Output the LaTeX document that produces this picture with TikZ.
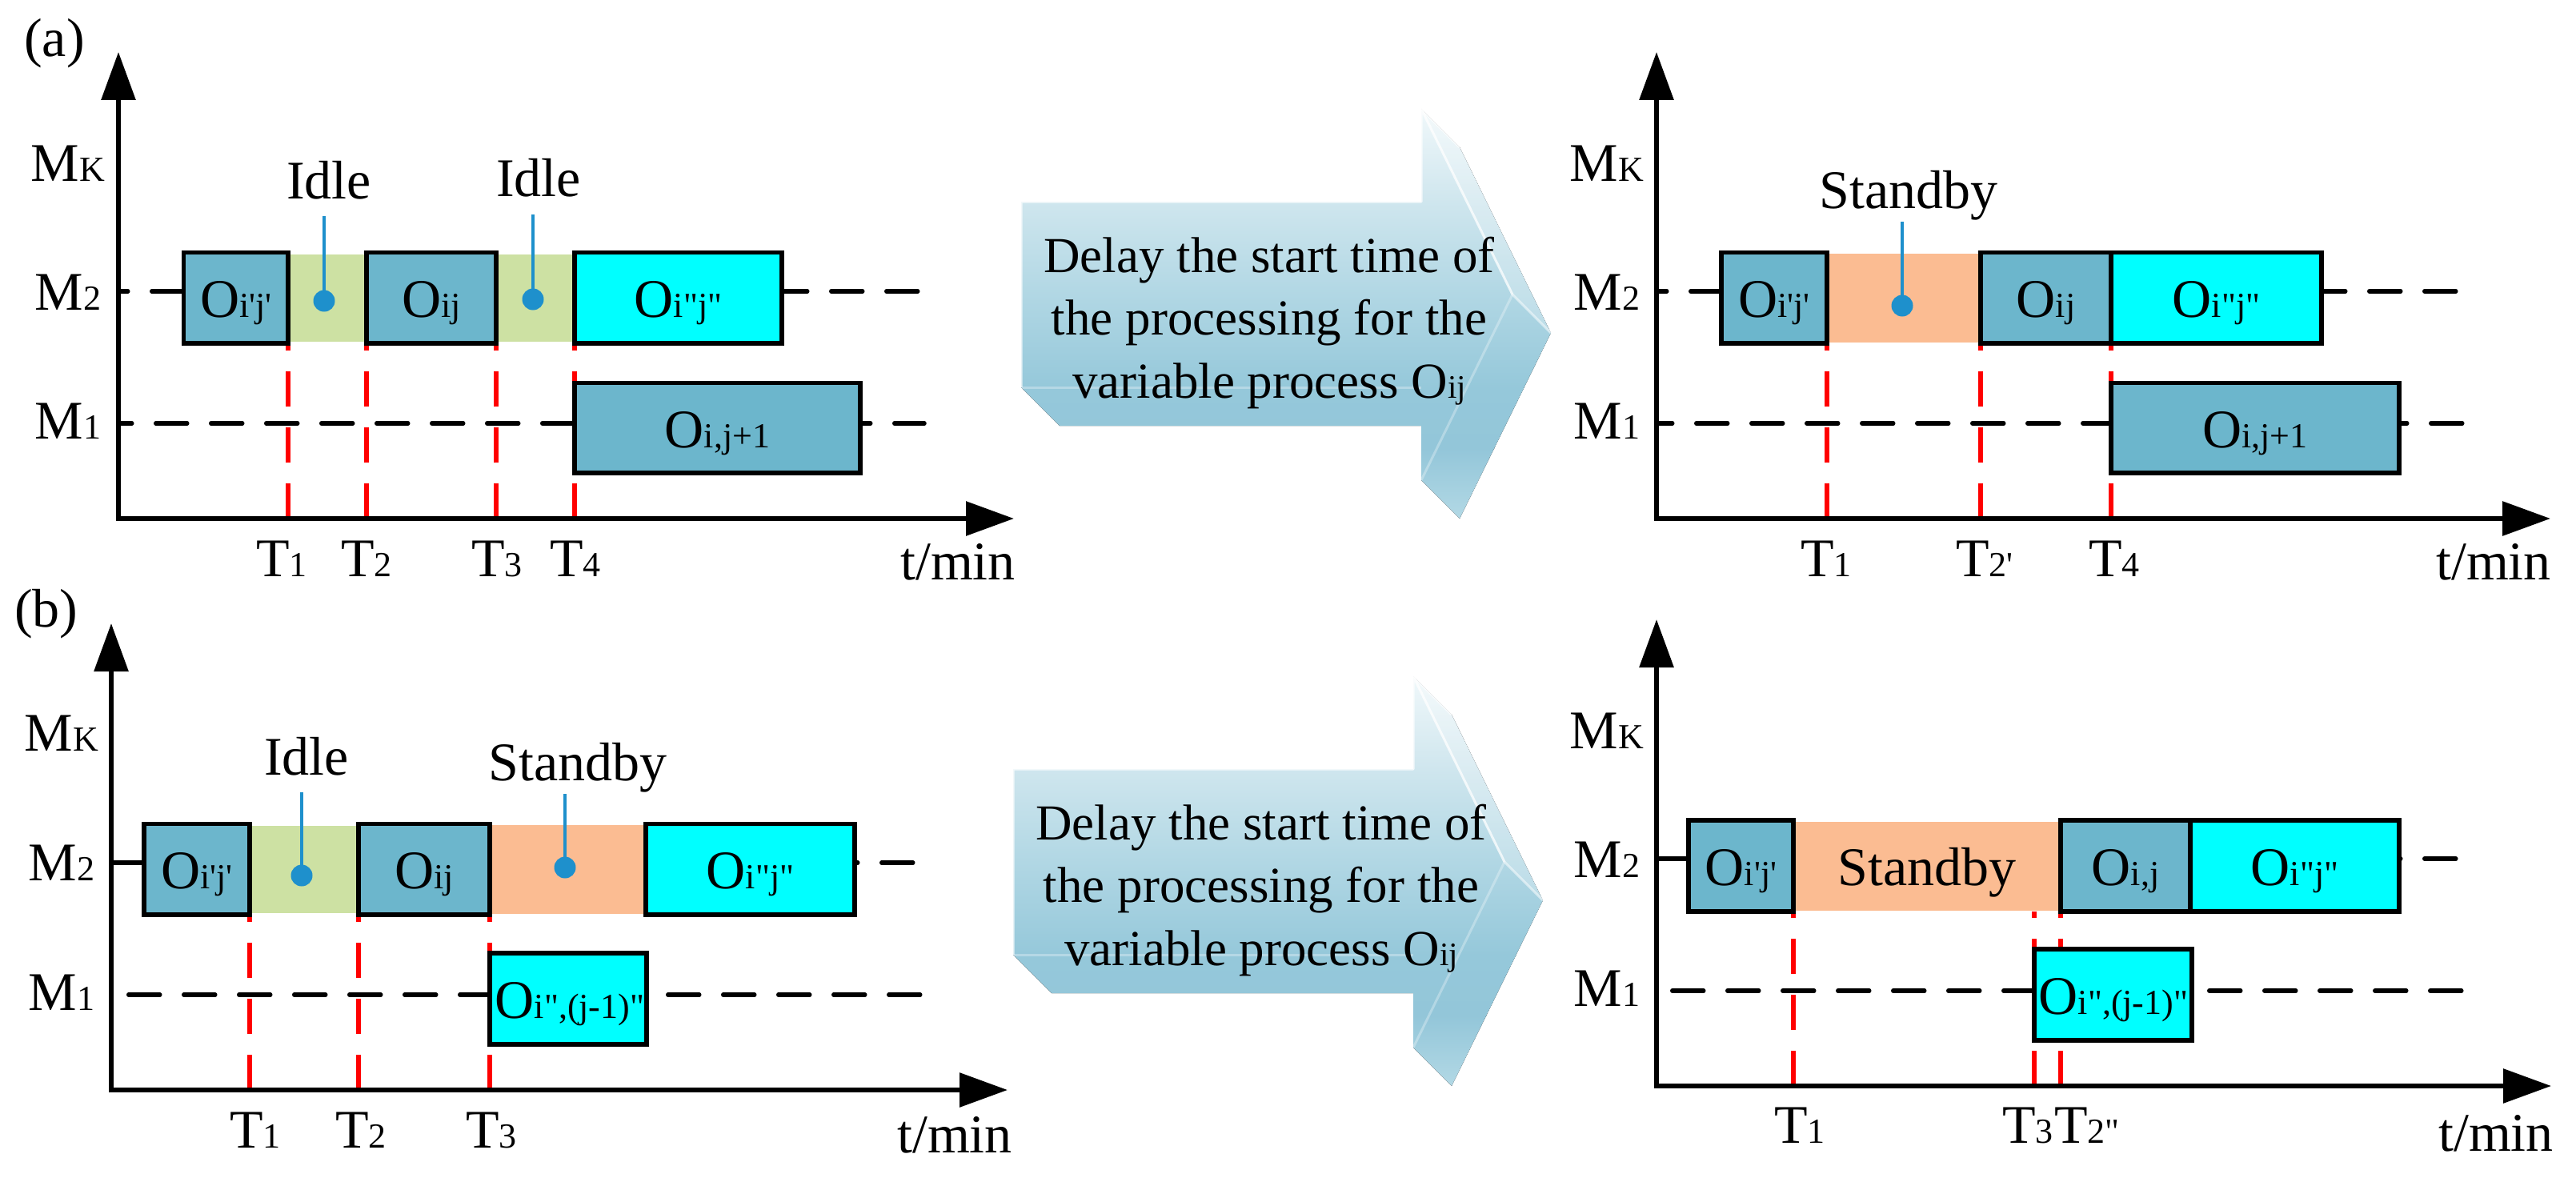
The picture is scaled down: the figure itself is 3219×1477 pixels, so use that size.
\documentclass[tikz,border=0pt]{standalone}
\usepackage{fontspec}
\setmainfont{Liberation Serif}
\usetikzlibrary{arrows.meta}
\definecolor{boxblue}{HTML}{6CB6CC}
\definecolor{brcyan}{RGB}{0,255,255}
\definecolor{idlegreen}{HTML}{CDE1A3}
\definecolor{sborange}{HTML}{FBBC92}
\definecolor{pinblue}{HTML}{1E90CC}
\definecolor{arrW}{HTML}{F2F9FB}
\definecolor{arrT}{HTML}{CFE6EE}
\definecolor{arrM}{HTML}{B1D7E4}
\definecolor{arrD}{HTML}{95C8DA}
\definecolor{arrE}{HTML}{93C6D9}
\definecolor{arrB}{HTML}{B5DAE6}
\newcommand\bigtxt{\fontsize{68pt}{80pt}\selectfont}
\newcommand\subtxt{\fontsize{44pt}{50pt}\selectfont}
\newcommand\arrtxt{\fontsize{63pt}{79pt}\selectfont}
\newcommand\arrsubtxt{\fontsize{41pt}{48pt}\selectfont}
\newcommand\sbx[1]{{\subtxt #1}}
\newcommand\asbx[1]{{\arrsubtxt #1}}
\newcommand\myq{\textquotesingle}
\newcommand\myqq{\textquotedbl}
\tikzset{
  ax/.style={line width=6pt, line cap=rect, -{Triangle[length=60pt,width=42pt]}},
  mline/.style={line width=5.5pt, line cap=round, dash pattern=on 39pt off 30pt},
  tmark/.style={red, line width=6pt, dash pattern=on 44pt off 26pt},
  opbox/.style={draw=black, line width=5.7pt, fill=boxblue},
  cybox/.style={opbox, fill=brcyan},
  idleband/.style={fill=idlegreen},
  sbband/.style={fill=sborange},
  lbl/.style={inner sep=0pt, anchor=base, font=\bigtxt},
  arrlbl/.style={inner sep=0pt, anchor=base, font=\arrtxt},
  pinline/.style={pinblue, line width=4pt},
  pindot/.style={circle, fill=pinblue, inner sep=0pt, minimum size=27pt},
  edgeline/.style={white, line width=3pt, line join=round}
}
\newcommand\drawbigarrow[3]{%
  \begin{scope}[shift={(#1,#2)}]
    \begin{scope}
      \clip (1276,252) -- (1776,252) -- (1776,136) -- (1824,184) -- (1938,416) -- (1824,648) -- (1776,600) -- (1776,532) -- (1324,532) -- (1276,484) -- cycle;
      \fill[top color=arrW, bottom color=arrT] (1250,130) rectangle (1950,252.5);
      \fill[top color=arrT, bottom color=arrM] (1250,252) rectangle (1950,368.5);
      \fill[top color=arrM, bottom color=arrD] (1250,368) rectangle (1950,484.5);
      \fill[top color=arrD, bottom color=arrE] (1250,484) rectangle (1950,560.5);
      \fill[top color=arrE, bottom color=arrB] (1250,560) rectangle (1950,655);
    \end{scope}
    \fill[white, opacity=.25] (1776,136) -- (1824,184) -- (1938,416) -- (1890,368) -- cycle;
    \draw[edgeline, opacity=.75] (1276,484) -- (1276,252) -- (1776,252) -- (1776,136) -- (1890,368);
    \draw[edgeline, opacity=.6] (1776,136) -- (1824,184);
    \draw[edgeline, opacity=.5] (1890,368) -- (1938,416);
    \draw[edgeline, opacity=.3] (1890,368) -- (1776,600);
    \draw[edgeline, opacity=.3] (1276,484) -- (1776,484);
    \node[arrlbl] (#3l1) at (1586,340) {Delay the start time of};
    \node[arrlbl] (#3l2) at (1586,418) {the processing for the};
    \node[arrlbl] (#3l3) at (1586,497) {variable process O\asbx{ij}};
  \end{scope}}
\begin{document}
\begin{tikzpicture}[x=1pt,y=-1pt]
\path[use as bounding box] (0,0) rectangle (3219,1477);

% ---------------- big arrows ----------------
\drawbigarrow{0}{0}{arrA}
\drawbigarrow{-10}{709}{arrB}

% ================= panel (a) left =================
\coordinate (aO) at (148,648);
\coordinate (aY) at (148,65);
\coordinate (aX) at (1267,648);
\draw[tmark] (360,648) -- (360,429);
\draw[tmark] (458,648) -- (458,429);
\draw[tmark] (620,648) -- (620,429);
\draw[tmark] (718,648) -- (718,429);
\draw[mline, dash phase=27.25pt] (148,364) -- (229.5,364);
\draw[mline, dash phase=7.25pt] (977,364) -- (1150,364);
\draw[mline, dash phase=22.25pt] (148,529) -- (718,529);
\draw[mline, dash phase=26.25pt] (1075,529) -- (1155,529);
\draw[ax] (aO) -- (aY);
\draw[ax] (aO) -- (aX);
\fill[idleband] (360,318) rectangle (458,426.5);
\fill[idleband] (620,318) rectangle (718,426.5);
\draw[opbox] (229.5,315.5) rectangle (360,429);
\draw[opbox] (458,315.5) rectangle (620,429);
\draw[cybox] (718,315.5) rectangle (977,429);
\draw[opbox] (718,478.5) rectangle (1075,591);
\node[lbl] (aA1) at (295,396) {O\sbx{i\myq j\myq}};
\node[lbl] (aA2) at (539,396) {O\sbx{ij}};
\node[lbl] (aA3) at (847.5,396) {O\sbx{i\myqq j\myqq}};
\node[lbl] (aA4) at (896.5,559) {O\sbx{i,j+1}};
\node[lbl] (aIdle1) at (411,248) {Idle};
\node[lbl] (aIdle2) at (673,245) {Idle};
\coordinate (aP1) at (405,270);
\coordinate (aP2) at (666,268);
\node[pindot] (aD1) at (405,376) {};
\node[pindot] (aD2) at (666,374) {};
\draw[pinline] (aP1) -- (aD1.center);
\draw[pinline] (aP2) -- (aD2.center);
\node[lbl, anchor=base west] (labA) at (30,71) {(a)};
\node[lbl] (aMK) at (85,226) {M\sbx{K}};
\node[lbl] (aM2) at (85,387) {M\sbx{2}};
\node[lbl] (aM1) at (85,548) {M\sbx{1}};
\node[lbl] (aT1) at (352,720) {T\sbx{1}};
\node[lbl] (aT2) at (458,720) {T\sbx{2}};
\node[lbl] (aT3) at (621,720) {T\sbx{3}};
\node[lbl] (aT4) at (719,720) {T\sbx{4}};
\node[lbl, anchor=base east] (atm) at (1269,724) {t/min};

% ================= panel (a) right =================
\coordinate (bO) at (2070,648);
\coordinate (bY) at (2070,65);
\coordinate (bX) at (3187,648);
\draw[tmark] (2283,648) -- (2283,429);
\draw[tmark] (2475,648) -- (2475,429);
\draw[tmark] (2638,648) -- (2638,429);
\draw[mline, dash phase=26.25pt] (2070,364) -- (2151,364);
\draw[mline, dash phase=9.25pt] (2901,364) -- (3070,364);
\draw[mline, dash phase=19.25pt] (2070,529) -- (2638,529);
\draw[mline, dash phase=29.25pt] (2998,529) -- (3079,529);
\draw[ax] (bO) -- (bY);
\draw[ax] (bO) -- (bX);
\fill[sbband] (2283,317) rectangle (2475,427.5);
\draw[opbox] (2151,315.5) rectangle (2283,429);
\draw[opbox] (2475,315.5) rectangle (2638,429);
\draw[cybox] (2638,315.5) rectangle (2901,429);
\draw[opbox] (2638,478.5) rectangle (2998,591);
\node[lbl] (bB1) at (2217,396) {O\sbx{i\myq j\myq}};
\node[lbl] (bB2) at (2556.5,396) {O\sbx{ij}};
\node[lbl] (bB3) at (2769.5,396) {O\sbx{i\myqq j\myqq}};
\node[lbl] (bB4) at (2818,559) {O\sbx{i,j+1}};
\node[lbl] (bSb) at (2385,260) {Standby};
\coordinate (bP1) at (2377,277);
\node[pindot] (bD1) at (2377,382) {};
\draw[pinline] (bP1) -- (bD1.center);
\node[lbl] (bMK) at (2008,226) {M\sbx{K}};
\node[lbl] (bM2) at (2008,387) {M\sbx{2}};
\node[lbl] (bM1) at (2008,548) {M\sbx{1}};
\node[lbl] (bT1) at (2282,720) {T\sbx{1}};
\node[lbl] (bT2) at (2480,720) {T\sbx{2\myq}};
\node[lbl] (bT4) at (2642,720) {T\sbx{4}};
\node[lbl, anchor=base east] (btm) at (3188,724) {t/min};

% ================= panel (b) left =================
\coordinate (cO) at (139,1362);
\coordinate (cY) at (139,779);
\coordinate (cX) at (1259,1362);
\draw[tmark] (312,1362) -- (312,1143);
\draw[tmark] (448,1362) -- (448,1143);
\draw[tmark] (612,1362) -- (612,1143);
\draw[mline, dash phase=0pt] (139,1078) -- (180,1078);
\draw[mline, dash phase=35.25pt] (1068,1078) -- (1141,1078);
\draw[mline, dash phase=47.25pt] (139,1243) -- (612,1243);
\draw[mline, dash phase=42.25pt] (808,1243) -- (1150,1243);
\draw[ax] (cO) -- (cY);
\draw[ax] (cO) -- (cX);
\fill[idleband] (312,1032) rectangle (448,1140.5);
\fill[sbband] (612,1031) rectangle (807,1141.5);
\draw[opbox] (180,1029.5) rectangle (312,1143);
\draw[opbox] (448,1029.5) rectangle (612,1143);
\draw[cybox] (807,1029.5) rectangle (1068,1143);
\draw[cybox] (612,1191) rectangle (808,1305);
\node[lbl] (cC1) at (246,1110) {O\sbx{i\myq j\myq}};
\node[lbl] (cC2) at (530,1110) {O\sbx{ij}};
\node[lbl] (cC3) at (937.5,1110) {O\sbx{i\myqq j\myqq}};
\node[lbl] (cC4) at (712,1272) {O\sbx{i\myqq,(j-1)\myqq}};
\node[lbl] (cIdle) at (383,968) {Idle};
\node[lbl] (cSb) at (722,975) {Standby};
\coordinate (cP1) at (377,990);
\coordinate (cP2) at (706,992);
\node[pindot] (cD1) at (377,1094) {};
\node[pindot] (cD2) at (706,1084) {};
\draw[pinline] (cP1) -- (cD1.center);
\draw[pinline] (cP2) -- (cD2.center);
\node[lbl, anchor=base west] (labB) at (18,783) {(b)};
\node[lbl] (cMK) at (77,938) {M\sbx{K}};
\node[lbl] (cM2) at (77,1100) {M\sbx{2}};
\node[lbl] (cM1) at (77,1262) {M\sbx{1}};
\node[lbl] (cT1) at (319,1434) {T\sbx{1}};
\node[lbl] (cT2) at (451,1434) {T\sbx{2}};
\node[lbl] (cT3) at (614,1434) {T\sbx{3}};
\node[lbl, anchor=base east] (ctm) at (1265,1440) {t/min};

% ================= panel (b) right =================
\coordinate (dO) at (2070,1357);
\coordinate (dY) at (2070,774);
\coordinate (dX) at (3188,1357);
\draw[tmark] (2241,1357) -- (2241,1139);
\draw[tmark] (2542,1357) -- (2542,1139);
\draw[tmark] (2575,1357) -- (2575,1139);
\draw[mline, dash phase=0pt] (2070,1073) -- (2110,1073);
\draw[mline, dash phase=37.25pt] (2998,1073) -- (3070,1073);
\draw[mline, dash phase=49.25pt] (2070,1238) -- (2542,1238);
\draw[mline, dash phase=47.25pt] (2739,1238) -- (3079,1238);
\draw[ax] (dO) -- (dY);
\draw[ax] (dO) -- (dX);
\fill[sbband] (2241,1026.5) rectangle (2575,1137.5);
\draw[opbox] (2110,1025) rectangle (2241,1139);
\draw[opbox] (2575,1025) rectangle (2737,1139);
\draw[cybox] (2737,1025) rectangle (2998,1139);
\draw[cybox] (2542,1186) rectangle (2739,1300);
\node[lbl] (dD1) at (2175.5,1106) {O\sbx{i\myq j\myq}};
\node[lbl] (dSb) at (2408,1106) {Standby};
\node[lbl] (dD2) at (2656,1106) {O\sbx{i,j}};
\node[lbl] (dD3) at (2867.5,1106) {O\sbx{i\myqq j\myqq}};
\node[lbl] (dD4) at (2641,1267) {O\sbx{i\myqq,(j-1)\myqq}};
\node[lbl] (dMK) at (2008,935) {M\sbx{K}};
\node[lbl] (dM2) at (2008,1096) {M\sbx{2}};
\node[lbl] (dM1) at (2008,1257) {M\sbx{1}};
\node[lbl] (dT1) at (2249,1428) {T\sbx{1}};
\node[lbl, anchor=base east] (dT3) at (2566,1428) {T\sbx{3}};
\node[lbl, anchor=base west] (dT2) at (2567,1428) {T\sbx{2\myqq}};
\node[lbl, anchor=base east] (dtm) at (3191,1438) {t/min};
\end{tikzpicture}
\end{document}
